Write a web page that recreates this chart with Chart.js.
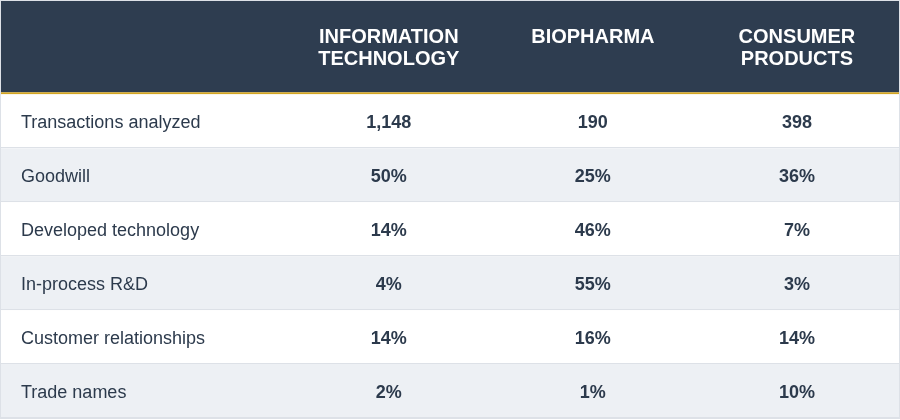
<!DOCTYPE html>
<html>
<head>
<meta charset="utf-8">
<script src="https://cdn.jsdelivr.net/npm/chart.js@4.4.1/dist/chart.umd.min.js"></script>
<style>
  html, body { margin: 0; padding: 0; background: #ffffff; }
  #wrap { width: 900px; height: 420px; position: relative; }
</style>
</head>
<body>
<div id="wrap"><canvas id="c"></canvas></div>
<script>
// ---- data ----
const rowLabels = [
  'Transactions analyzed',
  'Goodwill',
  'Developed technology',
  'In-process R&D',
  'Customer relationships',
  'Trade names'
];
const rowUnits = ['count', '%', '%', '%', '%', '%'];
const columnHeaders = [
  ['INFORMATION', 'TECHNOLOGY'],
  ['BIOPHARMA'],
  ['CONSUMER', 'PRODUCTS']
];
const informationTechnology = [1148, 50, 14, 4, 14, 2];
const biopharma = [190, 25, 46, 55, 16, 1];
const consumerProducts = [398, 36, 7, 3, 14, 10];

// ---- style ----
const FONT = '"Liberation Sans", Arial, Helvetica, sans-serif';
const HEADER_BG = '#2e3d50';
const GOLD = '#d4a521';
const STRIPE = '#edf0f4';
const LINE = '#dde1e7';
const TEXT = '#2c3a4c';
const HEADER_UNITS = 1.73;   // header height in row units
const LABEL_UNITS = 1.4;     // label column width in column units

function fmt(v, unit) {
  return unit === 'count' ? v.toLocaleString('en-US') : v + '%';
}

const seriesArrays = [informationTechnology, biopharma, consumerProducts];
const datasets = seriesArrays.map((arr, j) => ({
  label: columnHeaders[j].join(' '),
  data: arr.map((v, i) => ({ x: j + 0.5, y: i + 0.5, v: v, unit: rowUnits[i] })),
  pointRadius: 0,
  pointHoverRadius: 0,
  showLine: false
}));

const tablePlugin = {
  id: 'tablePlugin',
  beforeDatasetsDraw(chart) {
    const { ctx, chartArea: a, scales: { x, y } } = chart;
    ctx.save();
    // header band
    const hTop = y.getPixelForValue(-HEADER_UNITS);
    const hBot = y.getPixelForValue(0);
    ctx.fillStyle = HEADER_BG;
    ctx.fillRect(a.left, hTop, a.right - a.left, hBot - hTop - 2);
    ctx.fillStyle = GOLD;
    ctx.fillRect(a.left, hBot - 2, a.right - a.left, 2);
    // rows
    rowLabels.forEach((lab, i) => {
      const top = y.getPixelForValue(i);
      const bot = y.getPixelForValue(i + 1);
      ctx.fillStyle = (i % 2 === 1) ? STRIPE : '#ffffff';
      ctx.fillRect(a.left, top, a.right - a.left, bot - top);
      ctx.fillStyle = LINE;
      ctx.fillRect(a.left, Math.round(bot) - 1, a.right - a.left, 1);
    });
    // outer border
    ctx.strokeStyle = LINE;
    ctx.lineWidth = 1;
    ctx.strokeRect(a.left - 0.5, a.top - 0.5, a.right - a.left + 1, a.bottom - a.top + 1);
    ctx.restore();
  },
  afterDatasetsDraw(chart) {
    const { ctx, scales: { x, y } } = chart;
    ctx.save();
    // header text
    const hTop = y.getPixelForValue(-HEADER_UNITS);
    ctx.fillStyle = '#ffffff';
    ctx.font = 'bold 20px ' + FONT;
    ctx.textAlign = 'center';
    ctx.textBaseline = 'alphabetic';
    columnHeaders.forEach((lines, j) => {
      const cx = x.getPixelForValue(j + 0.5);
      lines.forEach((ln, k) => {
        ctx.fillText(ln, cx, hTop + 41.5 + k * 22);
      });
    });
    // row labels
    ctx.fillStyle = TEXT;
    ctx.font = '18px ' + FONT;
    ctx.textAlign = 'left';
    const lx = x.getPixelForValue(-LABEL_UNITS) + 20;
    rowLabels.forEach((lab, i) => {
      const cy = y.getPixelForValue(i + 0.5);
      ctx.fillText(lab, lx, cy + 6.5);
    });
    // values, positioned at the dataset points
    ctx.font = 'bold 18px ' + FONT;
    ctx.textAlign = 'center';
    chart.data.datasets.forEach((ds, j) => {
      const meta = chart.getDatasetMeta(j);
      meta.data.forEach((pt, i) => {
        const d = ds.data[i];
        ctx.fillText(fmt(d.v, d.unit), pt.x, pt.y + 6.5);
      });
    });
    ctx.restore();
  }
};

new Chart(document.getElementById('c'), {
  type: 'scatter',
  data: { datasets },
  options: {
    responsive: true,
    maintainAspectRatio: false,
    animation: false,
    events: [],
    layout: { padding: { left: 1, right: 1, top: 1, bottom: 2 } },
    plugins: { legend: { display: false }, tooltip: { enabled: false } },
    scales: {
      x: { type: 'linear', display: false, min: -LABEL_UNITS, max: 3 },
      y: { type: 'linear', display: false, min: -HEADER_UNITS, max: rowLabels.length, reverse: true }
    }
  },
  plugins: [tablePlugin]
});
</script>
</body>
</html>
